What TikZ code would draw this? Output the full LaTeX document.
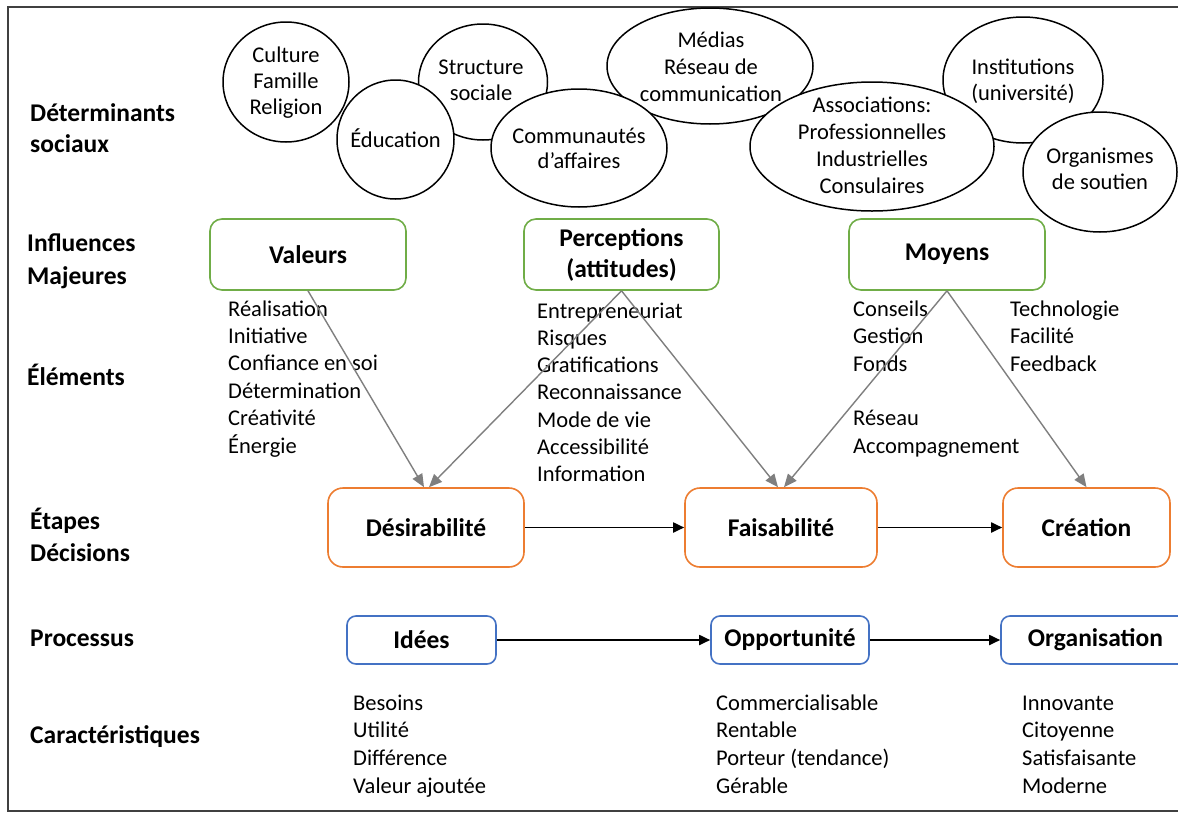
\documentclass[tikz,border=0pt]{standalone}
\usepackage{fontspec}
\setmainfont{Carlito}
\usetikzlibrary{shapes.geometric,arrows.meta,calc}
\definecolor{boxgreen}{HTML}{70AD47}
\definecolor{boxorange}{HTML}{ED7D31}
\definecolor{boxblue}{HTML}{4472C4}
\definecolor{arrgray}{HTML}{7F7F7F}
\definecolor{framegray}{HTML}{404040}
\tikzset{
  lst/.style={font=\fontsize{22.5}{27}\selectfont, inner sep=0pt, anchor=base west},
  elt/.style={font=\fontsize{22.5}{27}\selectfont, inner sep=0pt, anchor=base},
  lbl/.style={font=\fontsize{25.5}{30}\selectfont\bfseries, inner sep=0pt, anchor=base west},
  oval/.style={ellipse, draw=black, line width=1.5pt, fill=white, inner sep=0pt},
  gbox/.style={draw=boxgreen, line width=1.6pt, rounded corners=12pt, fill=white, font=\fontsize{25.5}{31}\selectfont\bfseries, align=center, inner sep=0pt},
  obox/.style={draw=boxorange, line width=1.6pt, rounded corners=15pt, fill=white, font=\fontsize{25.5}{31}\selectfont\bfseries, inner sep=0pt},
  bbox/.style={draw=boxblue, line width=1.6pt, rounded corners=9pt, fill=white, font=\fontsize{25.5}{31}\selectfont\bfseries, inner sep=0pt},
  garrow/.style={draw=arrgray, line width=1.4pt, -{Triangle[length=13pt,width=11pt]}},
  karrow/.style={draw=black, line width=1.8pt, -{Triangle[length=11pt,width=10pt]}},
}
\begin{document}
\begin{tikzpicture}[x=1pt,y=-1pt]
\useasboundingbox (0,0) rectangle (1178,814);
\fill[white] (0,0) rectangle (1178,814);
\draw[framegray, line width=1.8pt] (1200,7) -- (8,7) -- (8,811) -- (1200,811);

% left labels
\node[lbl] (l1a) at (30,121) {Déterminants};
\node[lbl] (l1b) at (30,152) {sociaux};
\node[lbl] (l2a) at (27,251) {Influences};
\node[lbl] (l2b) at (27,284) {Majeures};
\node[lbl] (l3) at (27,385) {Éléments};
\node[lbl] (l4a) at (30,529) {Étapes};
\node[lbl] (l4b) at (30,561) {Décisions};
\node[lbl] (l5) at (30,646) {Processus};
\node[lbl] (l6) at (30,743) {Caractéristiques};

% ellipses
\node[oval, minimum width=126pt, minimum height=120pt] (e1) at (286,82) {};
\node[oval, minimum width=129pt, minimum height=116pt] (e3) at (483,82) {};
\node[oval, minimum width=117pt, minimum height=119pt] (e2) at (395.5,139.5) {};
\node[oval, minimum width=206pt, minimum height=116pt] (e5) at (710,66) {};
\node[oval, minimum width=176pt, minimum height=118pt] (e4) at (579,148) {};
\node[oval, minimum width=160pt, minimum height=126pt] (e6) at (1023,80) {};
\node[oval, minimum width=244pt, minimum height=129pt] (e7) at (872,146.5) {};
\node[oval, minimum width=154pt, minimum height=120pt] (e8) at (1100,172) {};

\node[elt] (t1a) at (286,62) {Culture};
\node[elt] (t1b) at (286,88) {Famille};
\node[elt] (t1c) at (286,114) {Religion};
\node[elt] (t2) at (395.5,147) {Éducation};
\node[elt] (t3a) at (481,74) {Structure};
\node[elt] (t3b) at (481,100) {sociale};
\node[elt] (t4a) at (579,143) {Communautés};
\node[elt] (t4b) at (579,168) {d’affaires};
\node[elt] (t5a) at (711,47) {Médias};
\node[elt] (t5b) at (711,74) {Réseau de};
\node[elt] (t5c) at (711,101) {communication};
\node[elt] (t6a) at (1023,74) {Institutions};
\node[elt] (t6b) at (1023,100) {(université)};
\node[elt] (t7a) at (872,112) {Associations:};
\node[elt] (t7b) at (872,139) {Professionnelles};
\node[elt] (t7c) at (872,166) {Industrielles};
\node[elt] (t7d) at (872,193) {Consulaires};
\node[elt] (t8a) at (1100,163) {Organismes};
\node[elt] (t8b) at (1100,189) {de soutien};

% green boxes
\node[gbox, minimum width=196pt, minimum height=71pt] (val) at (308,254.5) {Valeurs};
\node[gbox, minimum width=195pt, minimum height=71pt] (per) at (621.5,254.5) {Perceptions\\(attitudes)};
\node[gbox, minimum width=196pt, minimum height=71pt] (moy) at (947,254.5) {Moyens};

% orange boxes
\node[obox, minimum width=196pt, minimum height=79pt] (des) at (426,527.5) {Désirabilité};
\node[obox, minimum width=192pt, minimum height=79pt] (fai) at (781,527.5) {Faisabilité};
\node[obox, minimum width=167pt, minimum height=79pt] (cre) at (1086.5,527.5) {Création};

% blue boxes
\node[bbox, minimum width=149pt, minimum height=48pt] (ide) at (421.5,640) {Idées};
\node[bbox, minimum width=158pt, minimum height=48pt] (opp) at (790,640) {Opportunité};
\node[bbox, minimum width=189pt, minimum height=48pt] (org) at (1095.5,640) {Organisation};

% lists
\foreach \t [count=\i] in {Réalisation,Initiative,Confiance en soi,Détermination,Créativité,Énergie}
  \node[lst] (v\i) at (228,{316+27.4*(\i-1)}) {\t};
\foreach \t [count=\i] in {Entrepreneuriat,Risques,Gratifications,Reconnaissance,Mode de vie,Accessibilité,Information}
  \node[lst] (p\i) at (537,{318+27.3*(\i-1)}) {\t};
\foreach \t [count=\i] in {Conseils,Gestion,Fonds}
  \node[lst] (m\i) at (853,{316+27.5*(\i-1)}) {\t};
\foreach \t [count=\i] in {Technologie,Facilité,Feedback}
  \node[lst] (n\i) at (1010,{316+27.5*(\i-1)}) {\t};
\node[lst] (r1) at (853,425) {Réseau};
\node[lst] (r2) at (853,453) {Accompagnement};
\foreach \t [count=\i] in {Besoins,Utilité,Différence,Valeur ajoutée}
  \node[lst] (c\i) at (353,{710+27.7*(\i-1)}) {\t};
\foreach \t [count=\i] in {Commercialisable,Rentable,Porteur (tendance),Gérable}
  \node[lst] (d\i) at (716,{710+27.7*(\i-1)}) {\t};
\foreach \t [count=\i] in {Innovante,Citoyenne,Satisfaisante,Moderne}
  \node[lst] (f\i) at (1022,{710+27.7*(\i-1)}) {\t};

% gray arrows
\draw[garrow] (val.south) -- ($(des.north)+(-2,0)$);
\draw[garrow] (per.south) -- ($(des.north)+(3,0)$);
\draw[garrow] (per.south) -- ($(fai.north)+(-3,0)$);
\draw[garrow] (moy.south) -- ($(fai.north)+(3,0)$);
\draw[garrow] (moy.south) -- (cre.north);

% black arrows
\draw[karrow] (des.east) -- (fai.west);
\draw[karrow] (fai.east) -- (cre.west);
\draw[karrow] (ide.east) -- (opp.west);
\draw[karrow] (opp.east) -- (org.west);
\end{tikzpicture}
\end{document}
